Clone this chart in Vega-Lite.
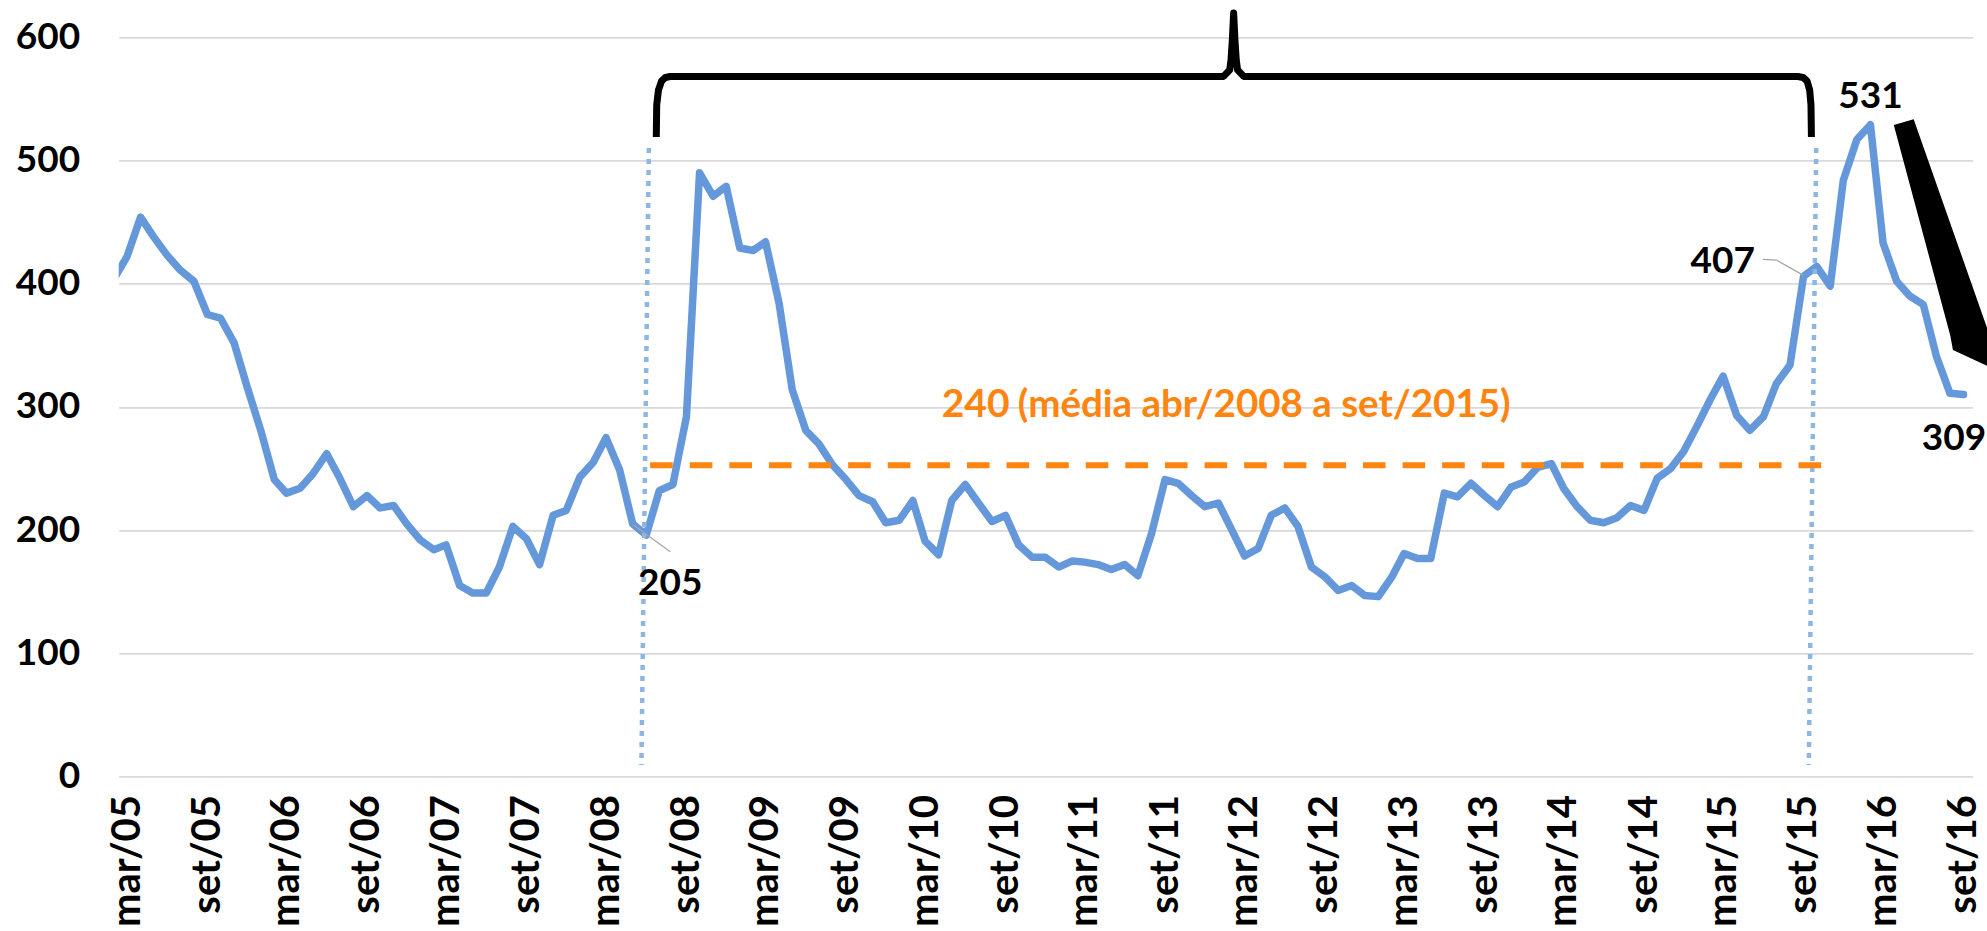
{
  "$schema": "https://vega.github.io/schema/vega-lite/v6.json",
  "width": 1854,
  "height": 739.2,
  "autosize": {"type": "none"},
  "padding": {"left": 118.7, "top": 37.3, "right": 14.3, "bottom": 154.5},
  "background": "white",
  "config": {"view": {"stroke": null}, "font": "Lato"},
  "datasets": {
    "embi": [
      {"mes":"2005-02-01","risco":405},{"mes":"2005-03-01","risco":422},{"mes":"2005-04-01","risco":454},{"mes":"2005-05-01","risco":438},{"mes":"2005-06-01","risco":423},{"mes":"2005-07-01","risco":411},{"mes":"2005-08-01","risco":402},{"mes":"2005-09-01","risco":375},{"mes":"2005-10-01","risco":372},{"mes":"2005-11-01","risco":352},{"mes":"2005-12-01","risco":316},
      {"mes":"2006-01-01","risco":281},{"mes":"2006-02-01","risco":241},{"mes":"2006-03-01","risco":230},{"mes":"2006-04-01","risco":234},{"mes":"2006-05-01","risco":246},{"mes":"2006-06-01","risco":262},{"mes":"2006-07-01","risco":242},{"mes":"2006-08-01","risco":219},{"mes":"2006-09-01","risco":228},{"mes":"2006-10-01","risco":218},{"mes":"2006-11-01","risco":220},{"mes":"2006-12-01","risco":205},
      {"mes":"2007-01-01","risco":192},{"mes":"2007-02-01","risco":184},{"mes":"2007-03-01","risco":188},{"mes":"2007-04-01","risco":155},{"mes":"2007-05-01","risco":149},{"mes":"2007-06-01","risco":149},{"mes":"2007-07-01","risco":170},{"mes":"2007-08-01","risco":203},{"mes":"2007-09-01","risco":193},{"mes":"2007-10-01","risco":172},{"mes":"2007-11-01","risco":212},{"mes":"2007-12-01","risco":216},
      {"mes":"2008-01-01","risco":243},{"mes":"2008-02-01","risco":255},{"mes":"2008-03-01","risco":275},{"mes":"2008-04-01","risco":249},{"mes":"2008-05-01","risco":205},{"mes":"2008-06-01","risco":196},{"mes":"2008-07-01","risco":232},{"mes":"2008-08-01","risco":237},{"mes":"2008-09-01","risco":292},{"mes":"2008-10-01","risco":490},{"mes":"2008-11-01","risco":471},{"mes":"2008-12-01","risco":479},
      {"mes":"2009-01-01","risco":429},{"mes":"2009-02-01","risco":427},{"mes":"2009-03-01","risco":434},{"mes":"2009-04-01","risco":384},{"mes":"2009-05-01","risco":314},{"mes":"2009-06-01","risco":281},{"mes":"2009-07-01","risco":270},{"mes":"2009-08-01","risco":253},{"mes":"2009-09-01","risco":241},{"mes":"2009-10-01","risco":228},{"mes":"2009-11-01","risco":223},{"mes":"2009-12-01","risco":206},
      {"mes":"2010-01-01","risco":208},{"mes":"2010-02-01","risco":224},{"mes":"2010-03-01","risco":191},{"mes":"2010-04-01","risco":180},{"mes":"2010-05-01","risco":224},{"mes":"2010-06-01","risco":237},{"mes":"2010-07-01","risco":222},{"mes":"2010-08-01","risco":207},{"mes":"2010-09-01","risco":212},{"mes":"2010-10-01","risco":188},{"mes":"2010-11-01","risco":178},{"mes":"2010-12-01","risco":178},
      {"mes":"2011-01-01","risco":170},{"mes":"2011-02-01","risco":175},{"mes":"2011-03-01","risco":174},{"mes":"2011-04-01","risco":172},{"mes":"2011-05-01","risco":168},{"mes":"2011-06-01","risco":172},{"mes":"2011-07-01","risco":163},{"mes":"2011-08-01","risco":197},{"mes":"2011-09-01","risco":241},{"mes":"2011-10-01","risco":238},{"mes":"2011-11-01","risco":228},{"mes":"2011-12-01","risco":219},
      {"mes":"2012-01-01","risco":222},{"mes":"2012-02-01","risco":200},{"mes":"2012-03-01","risco":179},{"mes":"2012-04-01","risco":185},{"mes":"2012-05-01","risco":212},{"mes":"2012-06-01","risco":218},{"mes":"2012-07-01","risco":203},{"mes":"2012-08-01","risco":170},{"mes":"2012-09-01","risco":162},{"mes":"2012-10-01","risco":151},{"mes":"2012-11-01","risco":155},{"mes":"2012-12-01","risco":147},
      {"mes":"2013-01-01","risco":146},{"mes":"2013-02-01","risco":162},{"mes":"2013-03-01","risco":181},{"mes":"2013-04-01","risco":177},{"mes":"2013-05-01","risco":177},{"mes":"2013-06-01","risco":230},{"mes":"2013-07-01","risco":227},{"mes":"2013-08-01","risco":238},{"mes":"2013-09-01","risco":228},{"mes":"2013-10-01","risco":219},{"mes":"2013-11-01","risco":235},{"mes":"2013-12-01","risco":239},
      {"mes":"2014-01-01","risco":251},{"mes":"2014-02-01","risco":254},{"mes":"2014-03-01","risco":234},{"mes":"2014-04-01","risco":219},{"mes":"2014-05-01","risco":208},{"mes":"2014-06-01","risco":206},{"mes":"2014-07-01","risco":210},{"mes":"2014-08-01","risco":220},{"mes":"2014-09-01","risco":216},{"mes":"2014-10-01","risco":242},{"mes":"2014-11-01","risco":250},{"mes":"2014-12-01","risco":264},
      {"mes":"2015-01-01","risco":285},{"mes":"2015-02-01","risco":307},{"mes":"2015-03-01","risco":325},{"mes":"2015-04-01","risco":293},{"mes":"2015-05-01","risco":281},{"mes":"2015-06-01","risco":292},{"mes":"2015-07-01","risco":319},{"mes":"2015-08-01","risco":334},{"mes":"2015-09-01","risco":406},{"mes":"2015-10-01","risco":414},{"mes":"2015-11-01","risco":398},{"mes":"2015-12-01","risco":484},
      {"mes":"2016-01-01","risco":517},{"mes":"2016-02-01","risco":529},{"mes":"2016-03-01","risco":433},{"mes":"2016-04-01","risco":402},{"mes":"2016-05-01","risco":390},{"mes":"2016-06-01","risco":383},{"mes":"2016-07-01","risco":341},{"mes":"2016-08-01","risco":311},{"mes":"2016-09-01","risco":310}
    ],
    "pontilhadas": [
      {"topo":"2008-06-07","vtopo":510.1,"base":"2008-05-21","vbase":9.3},
      {"topo":"2015-09-30","vtopo":510.1,"base":"2015-09-13","vbase":9.3}
    ],
    "media": [{"inicio":"2008-06-10","fim":"2015-10-13","valor":252.6}],
    "chave": [
      {"i":1,"data":"2008-06-24","valor":519.1},{"i":2,"data":"2008-06-25","valor":545.1},{"i":3,"data":"2008-06-29","valor":557.2},{"i":4,"data":"2008-07-06","valor":564.5},{"i":5,"data":"2008-07-15","valor":567.4},{"i":6,"data":"2008-07-26","valor":568.2},
      {"i":7,"data":"2012-01-13","valor":568.2},{"i":8,"data":"2012-01-27","valor":573.5},{"i":9,"data":"2012-01-30","valor":581.6},{"i":10,"data":"2012-02-02","valor":597.8},{"i":11,"data":"2012-02-05","valor":619.7},{"i":12,"data":"2012-02-08","valor":597.8},{"i":13,"data":"2012-02-11","valor":581.6},{"i":14,"data":"2012-02-14","valor":573.5},{"i":15,"data":"2012-02-28","valor":568.2},
      {"i":16,"data":"2015-08-19","valor":568.2},{"i":17,"data":"2015-08-31","valor":567.4},{"i":18,"data":"2015-09-09","valor":564.5},{"i":19,"data":"2015-09-15","valor":557.2},{"i":20,"data":"2015-09-18","valor":545.1},{"i":21,"data":"2015-09-19","valor":519.1}
    ],
    "guias": [
      {"grupo":"a","i":1,"data":"2008-05-03","valor":204.1},{"grupo":"a","i":2,"data":"2008-07-26","valor":182.5},
      {"grupo":"b","i":1,"data":"2015-05-31","valor":419.8},{"grupo":"b","i":2,"data":"2015-07-01","valor":419.2},{"grupo":"b","i":3,"data":"2015-08-31","valor":407}
    ],
    "rotulos": [
      {"data":"2008-07-26","valor":147.3,"rotulo":"205"},
      {"data":"2015-02-28","valor":408.4,"rotulo":"407"},
      {"data":"2016-02-01","valor":542.4,"rotulo":"531"},
      {"data":"2016-08-10","valor":265,"rotulo":"309"}
    ],
    "seta": [{"data":"2016-07-12","valor":427.4}]
  },
  "layer": [
    {
      "data": {"name": "embi"},
      "mark": {"type": "line", "color": "#6498DA", "strokeWidth": 7.5, "clip": true, "strokeJoin": "round", "strokeCap": "round"},
      "encoding": {
        "x": {
          "field": "mes", "type": "temporal", "title": null,
          "scale": {"type": "utc", "domain": [{"year": 2005, "month": 2, "date": 10, "utc": true}, {"year": 2016, "month": 9, "date": 22, "utc": true}]},
          "axis": {
            "grid": false, "domain": false, "ticks": false,
            "labelAngle": 270, "labelFont": "Lato", "labelFontSize": 40, "labelFontWeight": "bold", "labelColor": "#000000",
            "labelPadding": 18, "labelFlush": false, "labelOverlap": false, "labelBound": false,
            "values": [
              {"year":2005,"month":3,"date":1,"utc":true},{"year":2005,"month":9,"date":1,"utc":true},
              {"year":2006,"month":3,"date":1,"utc":true},{"year":2006,"month":9,"date":1,"utc":true},
              {"year":2007,"month":3,"date":1,"utc":true},{"year":2007,"month":9,"date":1,"utc":true},
              {"year":2008,"month":3,"date":1,"utc":true},{"year":2008,"month":9,"date":1,"utc":true},
              {"year":2009,"month":3,"date":1,"utc":true},{"year":2009,"month":9,"date":1,"utc":true},
              {"year":2010,"month":3,"date":1,"utc":true},{"year":2010,"month":9,"date":1,"utc":true},
              {"year":2011,"month":3,"date":1,"utc":true},{"year":2011,"month":9,"date":1,"utc":true},
              {"year":2012,"month":3,"date":1,"utc":true},{"year":2012,"month":9,"date":1,"utc":true},
              {"year":2013,"month":3,"date":1,"utc":true},{"year":2013,"month":9,"date":1,"utc":true},
              {"year":2014,"month":3,"date":1,"utc":true},{"year":2014,"month":9,"date":1,"utc":true},
              {"year":2015,"month":3,"date":1,"utc":true},{"year":2015,"month":9,"date":1,"utc":true},
              {"year":2016,"month":3,"date":1,"utc":true},{"year":2016,"month":9,"date":1,"utc":true}
            ],
            "labelExpr": "(utcFormat(datum.value, '%m') == '03' ? 'mar' : 'set') + '/' + utcFormat(datum.value, '%y')"
          }
        },
        "y": {
          "field": "risco", "type": "quantitative", "title": null,
          "scale": {"domain": [0, 600], "nice": false},
          "axis": {
            "values": [0, 100, 200, 300, 400, 500, 600],
            "grid": true, "gridColor": "#D9D9D9", "gridWidth": 1.8,
            "domain": false, "ticks": false,
            "labelFont": "Lato", "labelFontSize": 37, "labelFontWeight": "bold", "labelColor": "#000000",
            "labelPadding": 39
          }
        }
      }
    },
    {
      "data": {"name": "pontilhadas"},
      "mark": {"type": "rule", "color": "#8DB6E2", "strokeWidth": 4.5, "strokeDash": [5, 6], "strokeCap": "butt"},
      "encoding": {
        "x": {"field": "topo", "type": "temporal", "title": null},
        "x2": {"field": "base"},
        "y": {"field": "vtopo", "type": "quantitative", "title": null},
        "y2": {"field": "vbase"}
      }
    },
    {
      "data": {"name": "media"},
      "mark": {"type": "rule", "color": "#FF8410", "strokeWidth": 6, "strokeDash": [22.6, 17], "strokeCap": "butt"},
      "encoding": {
        "x": {"field": "inicio", "type": "temporal", "title": null},
        "x2": {"field": "fim"},
        "y": {"field": "valor", "type": "quantitative", "title": null}
      }
    },
    {
      "data": {"name": "chave"},
      "mark": {"type": "line", "color": "#000000", "strokeWidth": 7, "strokeJoin": "round", "strokeCap": "butt"},
      "encoding": {
        "x": {"field": "data", "type": "temporal", "title": null},
        "y": {"field": "valor", "type": "quantitative", "title": null},
        "order": {"field": "i", "type": "quantitative"}
      }
    },
    {
      "data": {"name": "guias"},
      "mark": {"type": "line", "color": "#A6A6A6", "strokeWidth": 1.3},
      "encoding": {
        "x": {"field": "data", "type": "temporal", "title": null},
        "y": {"field": "valor", "type": "quantitative", "title": null},
        "detail": {"field": "grupo", "type": "nominal"},
        "order": {"field": "i", "type": "quantitative"}
      }
    },
    {
      "data": {"name": "rotulos"},
      "mark": {"type": "text", "font": "Lato", "fontSize": 37, "fontWeight": "bold", "color": "#000000", "align": "center", "baseline": "alphabetic"},
      "encoding": {
        "x": {"field": "data", "type": "temporal", "title": null},
        "y": {"field": "valor", "type": "quantitative", "title": null},
        "text": {"field": "rotulo"}
      }
    },
    {
      "data": {"values": [{"data": "2010-04-08", "valor": 291.8, "texto": "240"}]},
      "mark": {"type": "text", "font": "Lato", "fontSize": 39, "fontWeight": "bold", "color": "#FF8410", "align": "left", "baseline": "alphabetic"},
      "encoding": {
        "x": {"field": "data", "type": "temporal", "title": null},
        "y": {"field": "valor", "type": "quantitative", "title": null},
        "text": {"field": "texto"}
      }
    },
    {
      "data": {"values": [{"data": "2010-09-29", "valor": 291.8, "texto": "(média abr/2008 a set/2015)"}]},
      "mark": {"type": "text", "font": "Lato", "fontSize": 38.5, "fontWeight": "bold", "color": "#FF8410", "align": "left", "baseline": "alphabetic"},
      "encoding": {
        "x": {"field": "data", "type": "temporal", "title": null},
        "y": {"field": "valor", "type": "quantitative", "title": null},
        "text": {"field": "texto"}
      }
    },
    {
      "data": {"name": "seta"},
      "mark": {"type": "point", "shape": "M-0.365,-0.962L-0.212,-1.005L0.453,0.885L0.469,0.946L0.090,0.770L0.070,0.660Z", "size": 67600, "filled": true, "fill": "#000000", "strokeWidth": 0, "opacity": 1},
      "encoding": {
        "x": {"field": "data", "type": "temporal", "title": null},
        "y": {"field": "valor", "type": "quantitative", "title": null}
      }
    }
  ]
}
